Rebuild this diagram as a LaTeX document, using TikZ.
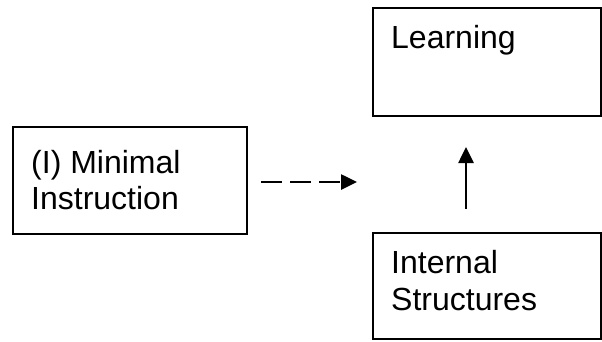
\documentclass[tikz,border=0pt]{standalone}
\usepackage{fontspec}
\setmainfont{Liberation Sans}
\usetikzlibrary{arrows.meta}
\begin{document}
\begin{tikzpicture}[x=1pt,y=-1pt,
  box/.style={draw=black,line width=1.5pt,inner sep=0pt,anchor=north west},
  lbl/.style={anchor=base west,inner sep=0pt,font=\fontsize{32}{36}\selectfont},
  conn/.style={line width=2.6pt,-{Triangle[length=16pt,width=15pt]}}]
\useasboundingbox (0,0) rectangle (602,341);
\node[box,minimum width=234pt,minimum height=107pt] (mi) at (12,126) {};
\node[box,minimum width=228pt,minimum height=108pt] (le) at (372,7) {};
\node[box,minimum width=228pt,minimum height=106pt] (is) at (372,232) {};
\node[lbl] (t1) at (31,173) {(I) Minimal};
\node[lbl] (t2) at (31,209) {Instruction};
\node[lbl] (t3) at (391,48) {Learning};
\node[lbl] (t4) at (391,273) {Internal};
\node[lbl] (t5) at (391,310) {Structures};
\coordinate (d1) at (261,182);
\coordinate (d2) at (357,182);
\coordinate (u1) at (466,209);
\coordinate (u2) at (466,147);
\draw[conn,dash pattern=on 21pt off 8pt] (d1) -- (d2);
\draw[conn] (u1) -- (u2);
\end{tikzpicture}
\end{document}
